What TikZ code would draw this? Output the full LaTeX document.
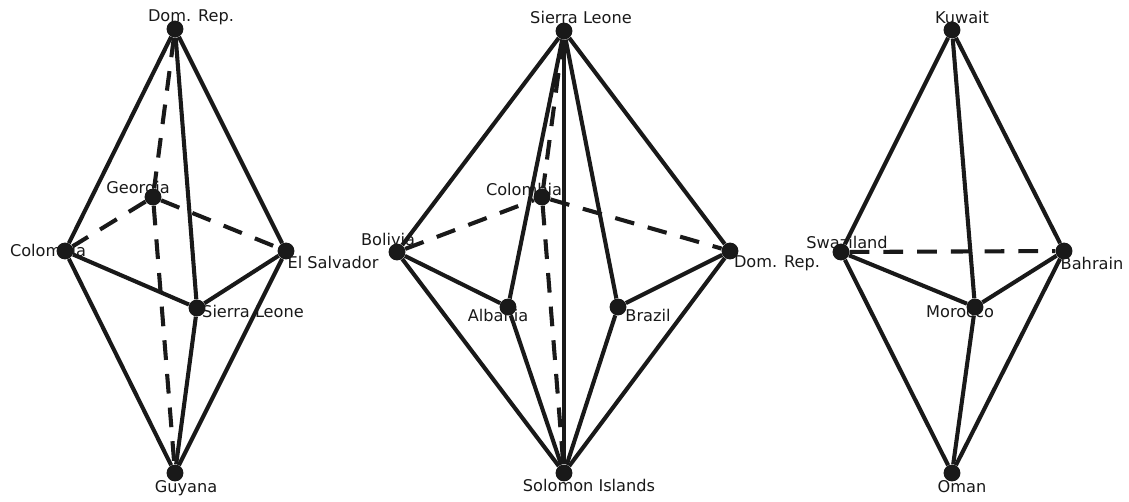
\documentclass[tikz,border=0pt]{standalone}
\usepackage{fontspec}
\setmainfont{DejaVu Sans}
\usepackage{tikz}

\begin{document}
\begin{tikzpicture}[
  x=0.025cm,
  y=-0.025cm,
  every node/.style={font=\fontsize{11.5}{13}\selectfont},
  vertex/.style={circle, fill=black!90, inner sep=0pt, minimum size=12},
  edge/.style={draw=black!90, line width=2.9pt},
  backedge/.style={draw=black!90, line width=2.9pt, dash pattern=on 14pt off 10pt},
  cname/.style={inner sep=0pt, text=black!90}
]
  \useasboundingbox (0,0) rectangle (1129,501);

  \node[vertex] (dr1) at (175,29) {};
  \node[vertex] (ge1) at (153,197) {};
  \node[vertex] (co1) at (65,251) {};
  \node[vertex] (es1) at (286,251) {};
  \node[vertex] (sl1) at (197,308) {};
  \node[vertex] (gu1) at (175,473) {};

  \node[vertex] (sl2) at (564,31) {};
  \node[vertex] (co2) at (542,197) {};
  \node[vertex] (bo2) at (397,252) {};
  \node[vertex] (dr2) at (730,251) {};
  \node[vertex] (al2) at (508,307) {};
  \node[vertex] (br2) at (618,307) {};
  \node[vertex] (so2) at (564,473) {};

  \node[vertex] (ku3) at (952,30) {};
  \node[vertex] (sw3) at (841,252) {};
  \node[vertex] (ba3) at (1064,251) {};
  \node[vertex] (mo3) at (975,307) {};
  \node[vertex] (om3) at (952,473) {};

  \foreach \a/\b in {dr1/ge1, ge1/gu1, ge1/co1, ge1/es1,
                     bo2/co2, co2/dr2, sl2/co2, co2/so2,
                     sw3/ba3} {
    \draw[backedge] (\a) -- (\b);
  }
  \foreach \a/\b in {dr1/co1, dr1/es1, dr1/sl1, co1/sl1, sl1/es1,
                     co1/gu1, es1/gu1, sl1/gu1} {
    \draw[edge] (\a) -- (\b);
  }
  \foreach \a/\b in {sl2/bo2, sl2/dr2, sl2/al2, sl2/br2, sl2/so2,
                     bo2/al2, br2/dr2, bo2/so2, al2/so2, br2/so2, dr2/so2} {
    \draw[edge] (\a) -- (\b);
  }
  \foreach \a/\b in {ku3/sw3, ku3/ba3, ku3/mo3, sw3/mo3, mo3/ba3,
                     sw3/om3, ba3/om3, mo3/om3} {
    \draw[edge] (\a) -- (\b);
  }

  \node[cname] (dr1-t) at (191,17) {Dom. Rep.};
  \node[cname] (ge1-t) at (138,189) {Georgia};
  \node[cname] (co1-t) at (48,250) {Colombia};
  \node[cname] (es1-t) at (333,262) {El Salvador};
  \node[cname] (sl1-t) at (253,311) {Sierra Leone};
  \node[cname] (gu1-t) at (186,488) {Guyana};

  \node[cname] (sl2-t) at (581,17) {Sierra Leone};
  \node[cname] (co2-t) at (524,189) {Colombia};
  \node[cname] (bo2-t) at (388,239) {Bolivia};
  \node[cname] (dr2-t) at (777,263) {Dom. Rep.};
  \node[cname] (al2-t) at (498,315) {Albania};
  \node[cname] (br2-t) at (648,315) {Brazil};
  \node[cname] (so2-t) at (589,485) {Solomon Islands};

  \node[cname] (ku3-t) at (962,17) {Kuwait};
  \node[cname] (sw3-t) at (847,242) {Swaziland};
  \node[cname] (ba3-t) at (1092,263) {Bahrain};
  \node[cname] (mo3-t) at (960,312) {Morocco};
  \node[cname] (om3-t) at (962,487) {Oman};
\end{tikzpicture}
\end{document}
